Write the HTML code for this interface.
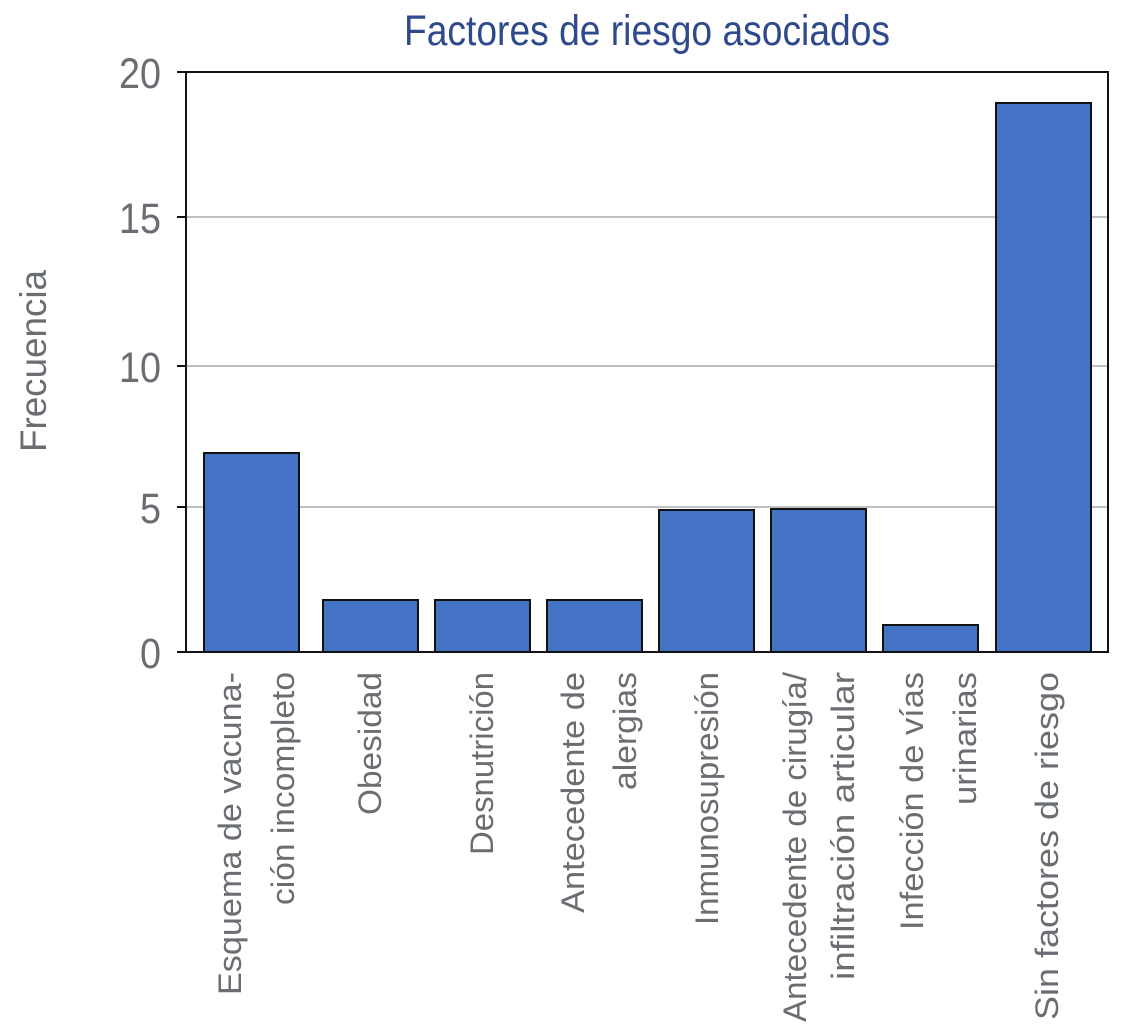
<!DOCTYPE html>
<html><head><meta charset="utf-8"><style>html,body{margin:0;padding:0;background:#fff}svg{display:block}</style></head>
<body>
<svg width="1121" height="1024" viewBox="0 0 1121 1024" xmlns="http://www.w3.org/2000/svg" font-family="Liberation Sans, sans-serif">
<rect width="1121" height="1024" fill="#fff"/>
<text x="647" y="45" text-anchor="middle" font-size="43" fill="#2f4a8c" textLength="486" lengthAdjust="spacingAndGlyphs">Factores de riesgo asociados</text>
<g stroke="#c0c0c0" stroke-width="2">
<line x1="186" y1="217" x2="1108" y2="217"/>
<line x1="186" y1="366" x2="1108" y2="366"/>
<line x1="186" y1="507" x2="1108" y2="507"/>
</g>
<g fill="#4472c4" stroke="#111" stroke-width="2">
<rect x="204" y="453" width="95" height="199"/>
<rect x="323" y="600" width="95" height="52"/>
<rect x="435" y="600" width="95" height="52"/>
<rect x="547" y="600" width="95" height="52"/>
<rect x="659" y="510" width="95" height="142"/>
<rect x="771" y="509" width="95" height="143"/>
<rect x="883" y="625" width="95" height="27"/>
<rect x="996" y="103" width="95" height="549"/>
</g>
<rect x="186" y="72" width="922" height="580" fill="none" stroke="#111" stroke-width="2"/>
<g stroke="#111" stroke-width="2">
<line x1="177" y1="72" x2="186" y2="72"/><line x1="177" y1="217" x2="186" y2="217"/>
<line x1="177" y1="366" x2="186" y2="366"/><line x1="177" y1="507" x2="186" y2="507"/>
<line x1="177" y1="652" x2="186" y2="652"/>
</g>
<g font-size="43" fill="#6a6e73" text-anchor="end">
<text x="161" y="88" textLength="42" lengthAdjust="spacingAndGlyphs">20</text>
<text x="161" y="233" textLength="42" lengthAdjust="spacingAndGlyphs">15</text>
<text x="161" y="382" textLength="42" lengthAdjust="spacingAndGlyphs">10</text>
<text x="161" y="523" textLength="21" lengthAdjust="spacingAndGlyphs">5</text>
<text x="161" y="668" textLength="21" lengthAdjust="spacingAndGlyphs">0</text>
</g>
<text transform="translate(46,361) rotate(-90)" text-anchor="middle" font-size="37" fill="#6a6e73" textLength="182" lengthAdjust="spacingAndGlyphs">Frecuencia</text>
<g font-size="32" fill="#6a6e73" text-anchor="end">
<text transform="translate(241,672) rotate(-90)" textLength="323" lengthAdjust="spacingAndGlyphs">Esquema de  vacuna-</text>
<text transform="translate(294,672) rotate(-90)" textLength="233" lengthAdjust="spacingAndGlyphs">ción incompleto</text>
<text transform="translate(381,672) rotate(-90)" textLength="143" lengthAdjust="spacingAndGlyphs">Obesidad</text>
<text transform="translate(493,672) rotate(-90)" textLength="183" lengthAdjust="spacingAndGlyphs">Desnutrición</text>
<text transform="translate(584,672) rotate(-90)" textLength="241" lengthAdjust="spacingAndGlyphs">Antecedente  de</text>
<text transform="translate(636,672) rotate(-90)" textLength="118" lengthAdjust="spacingAndGlyphs">alergias</text>
<text transform="translate(718,672) rotate(-90)" textLength="253" lengthAdjust="spacingAndGlyphs">Inmunosupresión</text>
<text transform="translate(806,672) rotate(-90)" textLength="350" lengthAdjust="spacingAndGlyphs">Antecedente de cirugía/</text>
<text transform="translate(854,672) rotate(-90)" textLength="308" lengthAdjust="spacingAndGlyphs">infiltración articular</text>
<text transform="translate(923,672) rotate(-90)" textLength="258" lengthAdjust="spacingAndGlyphs">Infección de vías</text>
<text transform="translate(976,672) rotate(-90)" textLength="133" lengthAdjust="spacingAndGlyphs">urinarias</text>
<text transform="translate(1058,672) rotate(-90)" textLength="348" lengthAdjust="spacingAndGlyphs">Sin factores de riesgo</text>
</g>
</svg>
</body></html>
